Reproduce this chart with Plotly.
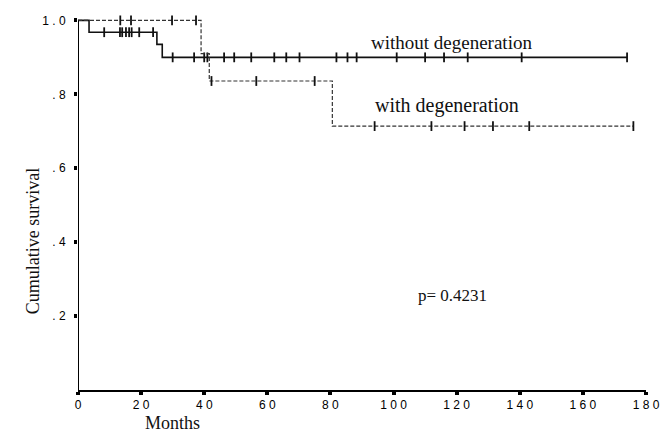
import numpy as np
import plotly.graph_objects as go

# Kaplan-Meier estimates (months, cumulative survival)
no_deg_event_months = [3.5, 25.0, 26.7]
no_deg_survival = [0.968, 0.935, 0.900]
no_deg_end = 174.0
no_deg_censored = [8.3, 13.3, 14.0, 15.2, 16.2, 17.0, 19.4, 23.8,
                   30.0, 36.8, 40.0, 41.0, 46.3, 49.5, 54.9, 62.2, 66.0,
                   70.2, 81.9, 85.4, 88.3, 101.0, 110.0, 116.0, 123.5,
                   140.6, 174.0]

deg_event_months = [39.0, 41.6, 80.6]
deg_survival = [0.910, 0.836, 0.714]
deg_end = 176.0
deg_censored = [13.4, 16.8, 29.8, 37.4, 42.3, 56.5, 75.0,
                94.0, 112.0, 122.5, 131.5, 143.0, 176.0]

x_ticks = [0, 20, 40, 60, 80, 100, 120, 140, 160, 180]
y_ticks = [0.2, 0.4, 0.6, 0.8, 1.0]
y_tick_text = [".2", ".4", ".6", ".8", "1.0"]
p_text = "p= 0.4231"


def step_curve(times, surv, end):
    xs = [0.0] + list(times) + [end]
    ys = [1.0] + list(surv) + [surv[-1]]
    return xs, ys


def level_at(times, surv, t):
    idx = np.searchsorted(np.asarray(times), np.asarray(t), side="right")
    levels = np.concatenate([[1.0], surv])
    return levels[idx]


fig = go.Figure()

x1, y1 = step_curve(no_deg_event_months, no_deg_survival, no_deg_end)
fig.add_trace(go.Scatter(x=x1, y=y1, mode="lines", line_shape="hv",
                         line=dict(color="#111", width=1.6)))
fig.add_trace(go.Scatter(x=no_deg_censored,
                         y=level_at(no_deg_event_months, no_deg_survival, no_deg_censored),
                         mode="markers", cliponaxis=False,
                         marker=dict(symbol="line-ns-open", size=7, color="#111",
                                     line=dict(color="#111", width=1.8))))

x2, y2 = step_curve(deg_event_months, deg_survival, deg_end)
fig.add_trace(go.Scatter(x=x2, y=y2, mode="lines", line_shape="hv",
                         line=dict(color="#333", width=1.2, dash="4px,2px")))
fig.add_trace(go.Scatter(x=deg_censored,
                         y=level_at(deg_event_months, deg_survival, deg_censored),
                         mode="markers", cliponaxis=False,
                         marker=dict(symbol="line-ns-open", size=7, color="#111",
                                     line=dict(color="#111", width=1.8))))


def spaced(s):
    return " ".join(s)


tick_font = dict(family="Liberation Sans, Arial, sans-serif", size=12, color="#000")
serif = "Liberation Serif, Times New Roman, serif"

fig.update_xaxes(range=[0, 180], tickvals=x_ticks,
                 ticktext=[spaced(str(v)) for v in x_ticks],
                 showgrid=False, zeroline=False, showline=True,
                 linecolor="#000", linewidth=2, automargin=False,
                 ticks="outside", ticklen=3, tickwidth=4, tickcolor="#000",
                 ticklabelstandoff=0, tickfont=tick_font)
fig.update_yaxes(range=[0, 1.02], tickvals=y_ticks,
                 ticktext=[spaced(t) for t in y_tick_text],
                 showgrid=False, zeroline=False, showline=False, automargin=False,
                 ticks="outside", ticklen=3, tickwidth=4, tickcolor="#000",
                 ticklabelstandoff=6, tickfont=tick_font)

# y-axis line from 0 up to 1.0
fig.add_shape(type="line", xref="x", yref="y", x0=0, x1=0, y0=0, y1=1.0,
              line=dict(color="#000", width=2))

fig.add_annotation(x=118.3, y=0.94, text="without degeneration", showarrow=False,
                   font=dict(family=serif, size=19, color="#111"))
fig.add_annotation(x=116.9, y=0.77, text="with degeneration", showarrow=False,
                   font=dict(family=serif, size=20, color="#111"))
fig.add_annotation(x=118.7, y=0.257, text=p_text, showarrow=False,
                   font=dict(family=serif, size=17, color="#111"))
fig.add_annotation(xref="paper", yref="paper", x=0.1144, y=-0.0875,
                   text="Months", showarrow=False, yanchor="middle",
                   font=dict(family=serif, size=18, color="#111"))
fig.add_annotation(xref="paper", yref="paper", x=-0.1, y=0.395,
                   text="Cumulative survival", showarrow=False, textangle=-90,
                   font=dict(family=serif, size=18, color="#111"))

fig.update_layout(width=660, height=434, showlegend=False,
                  margin=dict(l=78, r=14, t=13, b=44),
                  paper_bgcolor="white", plot_bgcolor="white")

fig.write_html("out.html")
